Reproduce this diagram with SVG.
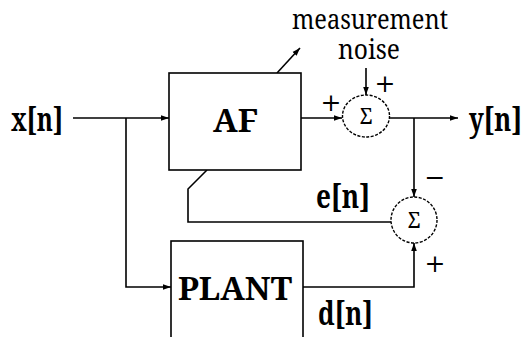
<svg xmlns="http://www.w3.org/2000/svg" width="529" height="337" viewBox="0 0 529 337">
<style>
.ln{fill:none;stroke:#000;stroke-width:1.6}
.box{fill:#fff;stroke:#000;stroke-width:1.6}
.sum{fill:#fff;stroke:#000;stroke-width:1.4;stroke-dasharray:3 1.5}
.lbl{font-family:"Noto Serif","DejaVu Serif",serif;font-weight:bold;fill:#000}
.reg{font-family:"Noto Serif","DejaVu Serif",serif;fill:#000}
.sg{font-family:"DejaVu Serif","Noto Serif",serif;fill:#000;font-size:25px;text-anchor:middle}
</style>
<defs>
<marker id="ah" viewBox="0 0 10 10" refX="10" refY="5" markerWidth="8" markerHeight="8" markerUnits="userSpaceOnUse" orient="auto">
<path d="M0,1.5 L10,5 L0,8.5 Z" fill="#000"/>
</marker>
</defs>
<rect width="529" height="337" fill="#fff"/>
<g id="connectors">
<path class="ln" d="M73,118 H169" marker-end="url(#ah)"/>
<path class="ln" d="M126,118 V287 H171" marker-end="url(#ah)"/>
<path class="ln" d="M301,118 H342" marker-end="url(#ah)"/>
<path class="ln" d="M366,68 V95" marker-end="url(#ah)"/>
<path class="ln" d="M389,118 H458" marker-end="url(#ah)"/>
<path class="ln" d="M414,118 V197" marker-end="url(#ah)"/>
<path class="ln" d="M303,287 H414 V243" marker-end="url(#ah)"/>
<path class="ln" d="M391,222 H188 V189 L207,170"/>
<path class="ln" d="M277,73 L300,48" marker-end="url(#ah)"/>
</g>
<g id="AF">
<rect class="box" x="169" y="73" width="132" height="97"/>
<text class="lbl" x="213" y="132" font-size="33" textLength="45" lengthAdjust="spacingAndGlyphs">AF</text>
</g>
<g id="PLANT">
<rect class="box" x="171" y="241" width="132" height="110"/>
<text class="lbl" x="178" y="300" font-size="33" textLength="114" lengthAdjust="spacingAndGlyphs">PLANT</text>
</g>
<g id="sum1">
<ellipse class="sum" cx="366" cy="116" rx="23.5" ry="21"/>
<text class="reg" x="366" y="124" font-size="21" text-anchor="middle">Σ</text>
</g>
<g id="sum2">
<ellipse class="sum" cx="414" cy="220" rx="23" ry="23"/>
<text class="reg" x="414" y="228" font-size="21" text-anchor="middle">Σ</text>
</g>
<g id="labels">
<text class="lbl" x="11" y="131" font-size="33" textLength="52" lengthAdjust="spacingAndGlyphs">x[n]</text>
<text class="lbl" x="469" y="131" font-size="33" textLength="53" lengthAdjust="spacingAndGlyphs">y[n]</text>
<text class="lbl" x="316" y="208" font-size="33" textLength="54" lengthAdjust="spacingAndGlyphs">e[n]</text>
<text class="lbl" x="318" y="325" font-size="33" textLength="55" lengthAdjust="spacingAndGlyphs">d[n]</text>
<text class="reg" x="292" y="29" font-size="27" textLength="156" lengthAdjust="spacingAndGlyphs">measurement</text>
<text class="reg" x="338" y="59" font-size="27" textLength="62" lengthAdjust="spacingAndGlyphs">noise</text>
<text class="sg" x="385" y="92">+</text>
<text class="sg" x="331" y="111">+</text>
<text class="sg" x="435" y="186">−</text>
<text class="sg" x="435" y="272">+</text>
</g>
</svg>
